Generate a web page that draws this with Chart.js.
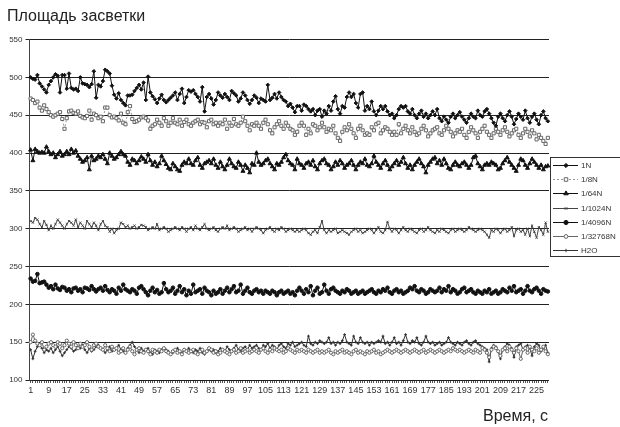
<!DOCTYPE html>
<html>
<head>
<meta charset="utf-8">
<script src="https://cdn.jsdelivr.net/npm/chart.js@4"></script>
<style>
  body { margin: 0; background: #fff; }
  #wrap { position: relative; width: 620px; height: 427px; overflow: hidden; font-family: 'Liberation Sans', Arial, sans-serif; }
  #chart { position: absolute; left: 0; top: 0; }
  .title { position: absolute; font-size: 16px; line-height: 16px; color: #222; white-space: nowrap; }
</style>
</head>
<body>
<div id="wrap">
  <canvas id="chart" width="620" height="427"></canvas>
  <div class="title" style="left:7px; top:8px;">Площадь засветки</div>
  <div class="title" style="left:483px; top:408px;">Время, с</div>
</div>
<script>
// время, с
const seconds = Array.from({ length: 230 }, (_, i) => i + 1);
const xTickLabels = ['1', '9', '17', '25', '33', '41', '49', '57', '65', '73', '81', '89', '97', '105', '113',
  '121', '129', '137', '145', '153', '161', '169', '177', '185', '193', '201', '209', '217', '225'];
const yTicks = [100, 150, 200, 250, 300, 350, 400, 450, 500, 550];

const n1 = [
  500, 498, 497, 503, 492, 488, 484, 480, 490, 495,
  500, 504, 502, 480, 503, 503, 485, 505, 486, 484,
  485, 482, 500, 492, 491, 490, 487, 491, 508, 473,
  490, 488, 495, 510, 508, 505, 489, 477, 472, 479,
  470, 466, 463, 476, 476, 477, 482, 486, 490, 484,
  493, 470, 501, 480, 475, 471, 466, 472, 477, 470,
  467, 470, 473, 476, 480, 470, 478, 485, 466, 474,
  483, 481, 483, 478, 474, 468, 487, 455, 474, 478,
  472, 464, 470, 480, 476, 473, 478, 474, 470, 482,
  479, 476, 468, 472, 480, 476, 470, 465, 470, 476,
  473, 466, 472, 470, 468, 490, 470, 473, 478, 472,
  480, 474, 470, 468, 462, 465, 460, 454, 462, 462,
  456, 464, 462, 458, 455, 458, 450, 456, 458, 448,
  456, 452, 462, 456, 468, 475, 458, 452, 462, 460,
  474, 480, 474, 478, 466, 460, 478, 480, 456, 462,
  458, 468, 455, 450, 456, 462, 458, 462, 455, 450,
  452, 446, 450, 458, 462, 460, 462, 455, 452, 458,
  450, 446, 452, 456, 448, 452, 446, 450, 455, 450,
  458, 446, 442, 448, 444, 440, 448, 452, 446, 450,
  454, 448, 444, 440, 446, 452, 448, 446, 456, 450,
  448, 455, 458, 452, 446, 440, 436, 448, 452, 446,
  442, 450, 455, 448, 438, 445, 452, 448, 444, 456,
  446, 440, 448, 452, 444, 438, 450, 455, 446, 442
];
const n8 = [
  472, 470, 466, 468, 460, 456, 463, 458, 454, 450,
  448, 450, 452, 454, 445, 432, 446, 455, 456, 453,
  452, 455, 449, 447, 446, 449, 456, 444, 452, 450,
  446, 448, 442, 460, 460, 450, 447, 448, 446, 443,
  452, 440, 438, 454, 462, 445, 441, 442, 444, 447,
  448, 446, 443, 432, 436, 438, 444, 440, 436, 446,
  442, 436, 440, 446, 440, 438, 444, 436, 441, 444,
  438, 436, 440, 442, 444, 438, 441, 440, 434, 442,
  444, 438, 440, 436, 440, 438, 444, 432, 440, 436,
  445, 438, 436, 440, 448, 442, 436, 430, 438, 436,
  440, 436, 432, 440, 444, 438, 430, 426, 434, 438,
  442, 436, 432, 440, 436, 432, 430, 424, 428, 436,
  440, 436, 424, 432, 426, 438, 436, 430, 434, 440,
  434, 428, 432, 430, 436, 426, 420, 416, 428, 434,
  430, 438, 432, 426, 420, 432, 436, 430, 424, 426,
  424, 434, 430, 438, 440, 426, 430, 434, 432, 428,
  424, 428, 424, 438, 426, 432, 436, 430, 426, 434,
  428, 424, 426, 432, 436, 430, 422, 426, 430, 432,
  434, 426, 424, 430, 436, 432, 428, 422, 426, 430,
  428, 432, 424, 420, 428, 434, 430, 426, 420, 428,
  432, 436, 428, 424, 420, 426, 432, 428, 424, 430,
  434, 428, 422, 426, 430, 432, 424, 420, 426, 432,
  428, 422, 430, 426, 418, 424, 420, 416, 412, 420
];
const n64 = [
  404, 390, 405, 402, 400, 401, 400, 408, 402, 398,
  400, 394, 398, 402, 396, 398, 402, 398, 405, 400,
  403, 396, 392, 388, 390, 394, 378, 396, 390, 392,
  396, 394, 398, 392, 386, 400, 396, 392, 394, 398,
  402, 398, 396, 388, 384, 392, 390, 386, 390, 395,
  392, 388, 398, 390, 384, 388, 382, 386, 396, 390,
  385, 380, 378, 386, 382, 378, 376, 384, 388, 386,
  392, 386, 384, 390, 394, 384, 380, 386, 388, 390,
  386, 392, 384, 380, 388, 382, 378, 384, 392, 386,
  382, 380, 388, 384, 376, 384, 380, 374, 386, 384,
  400, 388, 384, 386, 390, 392, 386, 382, 378, 386,
  384, 388, 394, 398, 390, 386, 384, 378, 392, 386,
  384, 380, 386, 388, 384, 390, 382, 378, 386, 390,
  392, 386, 384, 378, 382, 388, 384, 390, 386, 380,
  384, 386, 390, 384, 378, 384, 388, 386, 392, 384,
  382, 386, 396, 388, 384, 380, 386, 390, 384, 378,
  382, 386, 390, 384, 388, 394, 386, 380, 384, 378,
  384, 388, 392, 386, 382, 374, 384, 388, 392, 394,
  386, 390, 384, 392, 386, 380, 378, 384, 388, 384,
  382, 386, 388, 384, 380, 384, 394, 396, 386, 382,
  378, 384, 386, 384, 388, 386, 384, 378, 380, 386,
  390, 394, 388, 384, 380, 376, 384, 392, 390, 384,
  380, 386, 392, 388, 384, 380, 384, 378, 382, 383
];
const n1024 = [
  310, 308, 314, 312, 306, 302, 310, 305, 298, 304,
  300, 306, 312, 308, 304, 300, 306, 310, 308, 304,
  312, 302, 308, 304, 300, 310, 306, 302, 308, 304,
  298, 306, 310, 304, 302, 296, 300, 294, 298, 300,
  308, 306, 302, 304, 300, 302, 304, 300, 302, 305,
  304, 302, 298, 300, 302, 300, 306, 298, 300, 302,
  300, 296, 298, 300, 302, 300, 298, 302, 300, 296,
  300, 302, 298, 304, 300, 298, 302, 306, 300, 298,
  300, 302, 298, 296, 300, 302, 300, 304, 298, 300,
  302, 300, 296, 298, 300, 302, 298, 300, 296, 300,
  302, 300, 298, 294, 298, 300, 302, 298, 296, 300,
  298, 302, 300, 296, 298, 300, 298, 296, 298, 296,
  298, 300, 298, 294, 292, 296, 298, 294, 302, 310,
  298, 294, 298, 296, 298, 300, 294, 296, 298, 296,
  294, 292, 296, 298, 300, 296, 298, 294, 296, 298,
  300, 298, 294, 298, 302, 296, 294, 298, 309, 300,
  296, 300, 298, 294, 298, 302, 298, 296, 300, 298,
  296, 294, 298, 300, 296, 298, 302, 298, 296, 294,
  298, 296, 300, 298, 296, 294, 298, 300, 296, 298,
  300, 298, 296, 298, 302, 300, 298, 296, 298, 300,
  298, 296, 292, 288, 298, 296, 300, 298, 294, 298,
  300, 296, 298, 302, 290, 298, 300, 296, 298, 292,
  300, 290, 304, 296, 288, 302, 298, 292, 308, 296
];
const n4096 = [
  234, 230, 231, 240, 228, 229, 230, 226, 222, 224,
  220, 226, 221, 219, 223, 222, 218, 220, 216, 221,
  222, 218, 220, 216, 222, 221, 219, 224, 220, 217,
  220, 222, 218, 224, 219, 216, 220, 218, 214, 222,
  218, 226, 220, 218, 216, 220, 218, 214, 222, 224,
  220, 216, 212, 218, 222, 216, 219, 214, 216, 228,
  220, 216, 218, 222, 214, 218, 224, 216, 220, 212,
  218, 214, 226, 216, 218, 220, 214, 222, 218, 216,
  212, 218, 214, 216, 220, 214, 218, 222, 216, 220,
  224, 216, 218, 226, 214, 218, 222, 216, 214, 218,
  220, 216, 218, 214, 218, 216, 214, 218, 216, 212,
  216, 218, 214, 216, 218, 214, 216, 212, 218, 222,
  218, 214, 220, 216, 224, 212, 218, 222, 214, 216,
  226, 218, 214, 220, 222, 218, 216, 214, 218, 216,
  220, 218, 214, 216, 218, 214, 216, 218, 214, 216,
  218, 220, 216, 214, 218, 216, 220, 218, 222, 216,
  214, 218, 220, 216, 218, 214, 216, 218, 222, 220,
  224, 218, 216, 220, 218, 214, 216, 220, 218, 216,
  218, 222, 216, 220, 218, 224, 216, 220, 218, 214,
  216, 220, 222, 216, 218, 220, 216, 214, 218, 216,
  214, 218, 216, 220, 214, 216, 218, 214, 216, 220,
  218, 216, 222, 218, 224, 216, 218, 220, 214, 218,
  224, 218, 216, 220, 222, 218, 214, 220, 218, 217
];
const n32768 = [
  150, 160, 152, 148, 146, 150, 140, 144, 148, 150,
  146, 144, 150, 148, 142, 146, 152, 148, 144, 150,
  146, 142, 148, 144, 146, 150, 144, 140, 146, 148,
  144, 142, 140, 146, 142, 138, 144, 140, 142, 136,
  138, 142, 136, 140, 144, 138, 134, 140, 142, 138,
  136, 140, 138, 134, 140, 138, 136, 140, 138, 142,
  138, 136, 134, 138, 140, 136, 138, 134, 140, 138,
  136, 138, 140, 136, 134, 138, 140, 136, 138, 142,
  140, 136, 138, 134, 136, 140, 138, 136, 134, 138,
  140, 136, 138, 142, 136, 138, 140, 136, 138, 140,
  138, 136, 140, 142, 138, 136, 140, 138, 142, 140,
  138, 140, 136, 138, 142, 140, 138, 136, 140, 138,
  140, 138, 136, 140, 138, 136, 138, 140, 136, 138,
  136, 138, 140, 136, 134, 138, 136, 138, 140, 136,
  138, 136, 134, 138, 140, 136, 138, 136, 134, 138,
  136, 138, 140, 136, 138, 134, 136, 138, 140, 138,
  136, 138, 140, 138, 136, 138, 140, 138, 136, 138,
  140, 138, 136, 138, 140, 136, 138, 140, 138, 136,
  138, 140, 138, 136, 138, 140, 138, 142, 140, 138,
  140, 138, 136, 138, 140, 138, 136, 140, 138, 136,
  142, 140, 136, 130, 140, 144, 142, 138, 132, 140,
  142, 138, 144, 140, 136, 142, 138, 128, 140, 142,
  136, 144, 140, 138, 142, 136, 140, 144, 138, 134
];
const h2o = [
  140, 128, 138, 144, 146, 142, 136, 140, 138, 142,
  136, 140, 144, 138, 132, 136, 140, 144, 142, 138,
  140, 144, 142, 146, 140, 136, 142, 138, 140, 144,
  146, 142, 140, 136, 140, 144, 138, 140, 142, 146,
  140, 138, 136, 142, 146, 150, 144, 140, 136, 142,
  138, 140, 142, 136, 134, 140, 138, 136, 140, 142,
  140, 138, 134, 136, 140, 142, 138, 136, 140, 138,
  142, 138, 136, 140, 138, 142, 136, 134, 138, 140,
  138, 140, 136, 138, 142, 140, 138, 144, 140, 138,
  142, 146, 140, 138, 142, 144, 140, 146, 142, 144,
  146, 142, 140, 146, 144, 148, 142, 146, 144, 140,
  146, 148, 144, 142, 148, 146, 150, 144, 146, 148,
  150, 146, 144, 158, 148, 146, 150, 148, 152, 150,
  148, 150, 156, 148, 150, 146, 150, 148, 152, 160,
  150, 148, 146, 158, 150, 148, 156, 150, 148, 150,
  146, 150, 148, 150, 152, 150, 158, 148, 150, 146,
  150, 156, 148, 150, 146, 152, 160, 150, 148, 152,
  150, 156, 148, 146, 150, 158, 150, 148, 150, 146,
  148, 150, 146, 148, 150, 156, 150, 148, 146, 150,
  148, 146, 150, 152, 148, 146, 150, 152, 148, 146,
  144, 142, 140, 124, 142, 146, 144, 138, 128, 140,
  144, 148, 146, 142, 130, 144, 146, 148, 140, 144,
  146, 142, 132, 144, 148, 146, 138, 142, 146, 136
];

const series = [
  { label: '1N', data: n1, color: '#111', style: 'rectRot', radius: 1.8, fill: '#111' },
  { label: '1/8N', data: n8, color: '#666', style: 'rect', radius: 2.2, fill: '#fff', dash: [2, 2], line: '#999' },
  { label: '1/64N', data: n64, color: '#111', style: 'triangle', radius: 2.3, fill: '#111' },
  { label: '1/1024N', data: n1024, color: '#444', style: 'crossRot', radius: 1.5, fill: '#444' },
  { label: '1/4096N', data: n4096, color: '#111', style: 'circle', radius: 1.8, fill: '#111' },
  { label: '1/32768N', data: n32768, color: '#666', style: 'circle', radius: 1.6, fill: '#fff' },
  { label: 'H2O', data: h2o, color: '#333', style: 'cross', radius: 1.4, fill: '#333' }
];

// легенда в рамке справа, рисуется на том же canvas
const boxLegend = {
  id: 'boxLegend',
  afterDraw(chart) {
    const ctx = chart.ctx;
    const left = 550.5;
    const top = 157.5;
    ctx.save();
    ctx.fillStyle = '#fff';
    ctx.fillRect(left, top, 70, 99);
    ctx.strokeStyle = '#333';
    ctx.lineWidth = 1;
    ctx.strokeRect(left, top, 70, 99);
    ctx.font = "8px 'Liberation Sans', Arial, sans-serif";
    ctx.textBaseline = 'middle';
    series.forEach((s, i) => {
      const y = Math.round(165 + i * 14.2) + 0.5;
      ctx.strokeStyle = s.line || s.color;
      ctx.setLineDash(s.dash || []);
      ctx.beginPath();
      ctx.moveTo(553, y);
      ctx.lineTo(578, y);
      ctx.stroke();
      ctx.setLineDash([]);
      ctx.strokeStyle = s.color;
      ctx.fillStyle = s.fill;
      Chart.helpers.drawPoint(ctx, { pointStyle: s.style, radius: s.radius + 0.3, rotation: 0, borderWidth: 1 }, 566, y);
      ctx.fillStyle = '#333';
      ctx.fillText(s.label, 581, y);
    });
    ctx.restore();
  }
};

new Chart(document.getElementById('chart'), {
  type: 'line',
  data: {
    labels: seconds,
    datasets: series.map((s) => ({
      label: s.label,
      data: s.data,
      borderColor: s.line || s.color,
      borderWidth: 1,
      borderDash: s.dash || [],
      pointStyle: s.style,
      pointRadius: s.radius,
      pointBackgroundColor: s.fill,
      pointBorderColor: s.color,
      pointBorderWidth: 1,
      tension: 0
    }))
  },
  options: {
    responsive: false,
    animation: false,
    events: [],
    layout: { padding: { left: 0, top: 39.5, right: 71, bottom: 0 } },
    plugins: { legend: { display: false }, tooltip: { enabled: false } },
    scales: {
      x: {
        offset: true,
        afterFit: (scale) => { scale.height = 47; },
        grid: { drawOnChartArea: false, drawTicks: true, tickLength: 3, color: '#555' },
        border: { display: false },
        ticks: {
          autoSkip: false,
          maxRotation: 0,
          padding: 2,
          color: '#333',
          font: { family: "'Liberation Sans Narrow', 'Liberation Sans', Arial", size: 9 },
          callback: function (value) {
            const label = String(this.getLabelForValue(value));
            return xTickLabels.includes(label) ? label : '';
          }
        }
      },
      y: {
        min: yTicks[0],
        max: yTicks[yTicks.length - 1],
        afterFit: (scale) => { scale.width = 29.5; },
        afterBuildTicks: (scale) => { scale.ticks = yTicks.map((v) => ({ value: v })); },
        grid: { color: '#222', lineWidth: 1, tickLength: 4 },
        border: { display: true, color: '#444' },
        ticks: {
          padding: 3,
          color: '#333',
          font: { family: "'Liberation Sans Narrow', 'Liberation Sans', Arial", size: 8 }
        }
      }
    }
  },
  plugins: [boxLegend]
});
</script>
</body>
</html>
